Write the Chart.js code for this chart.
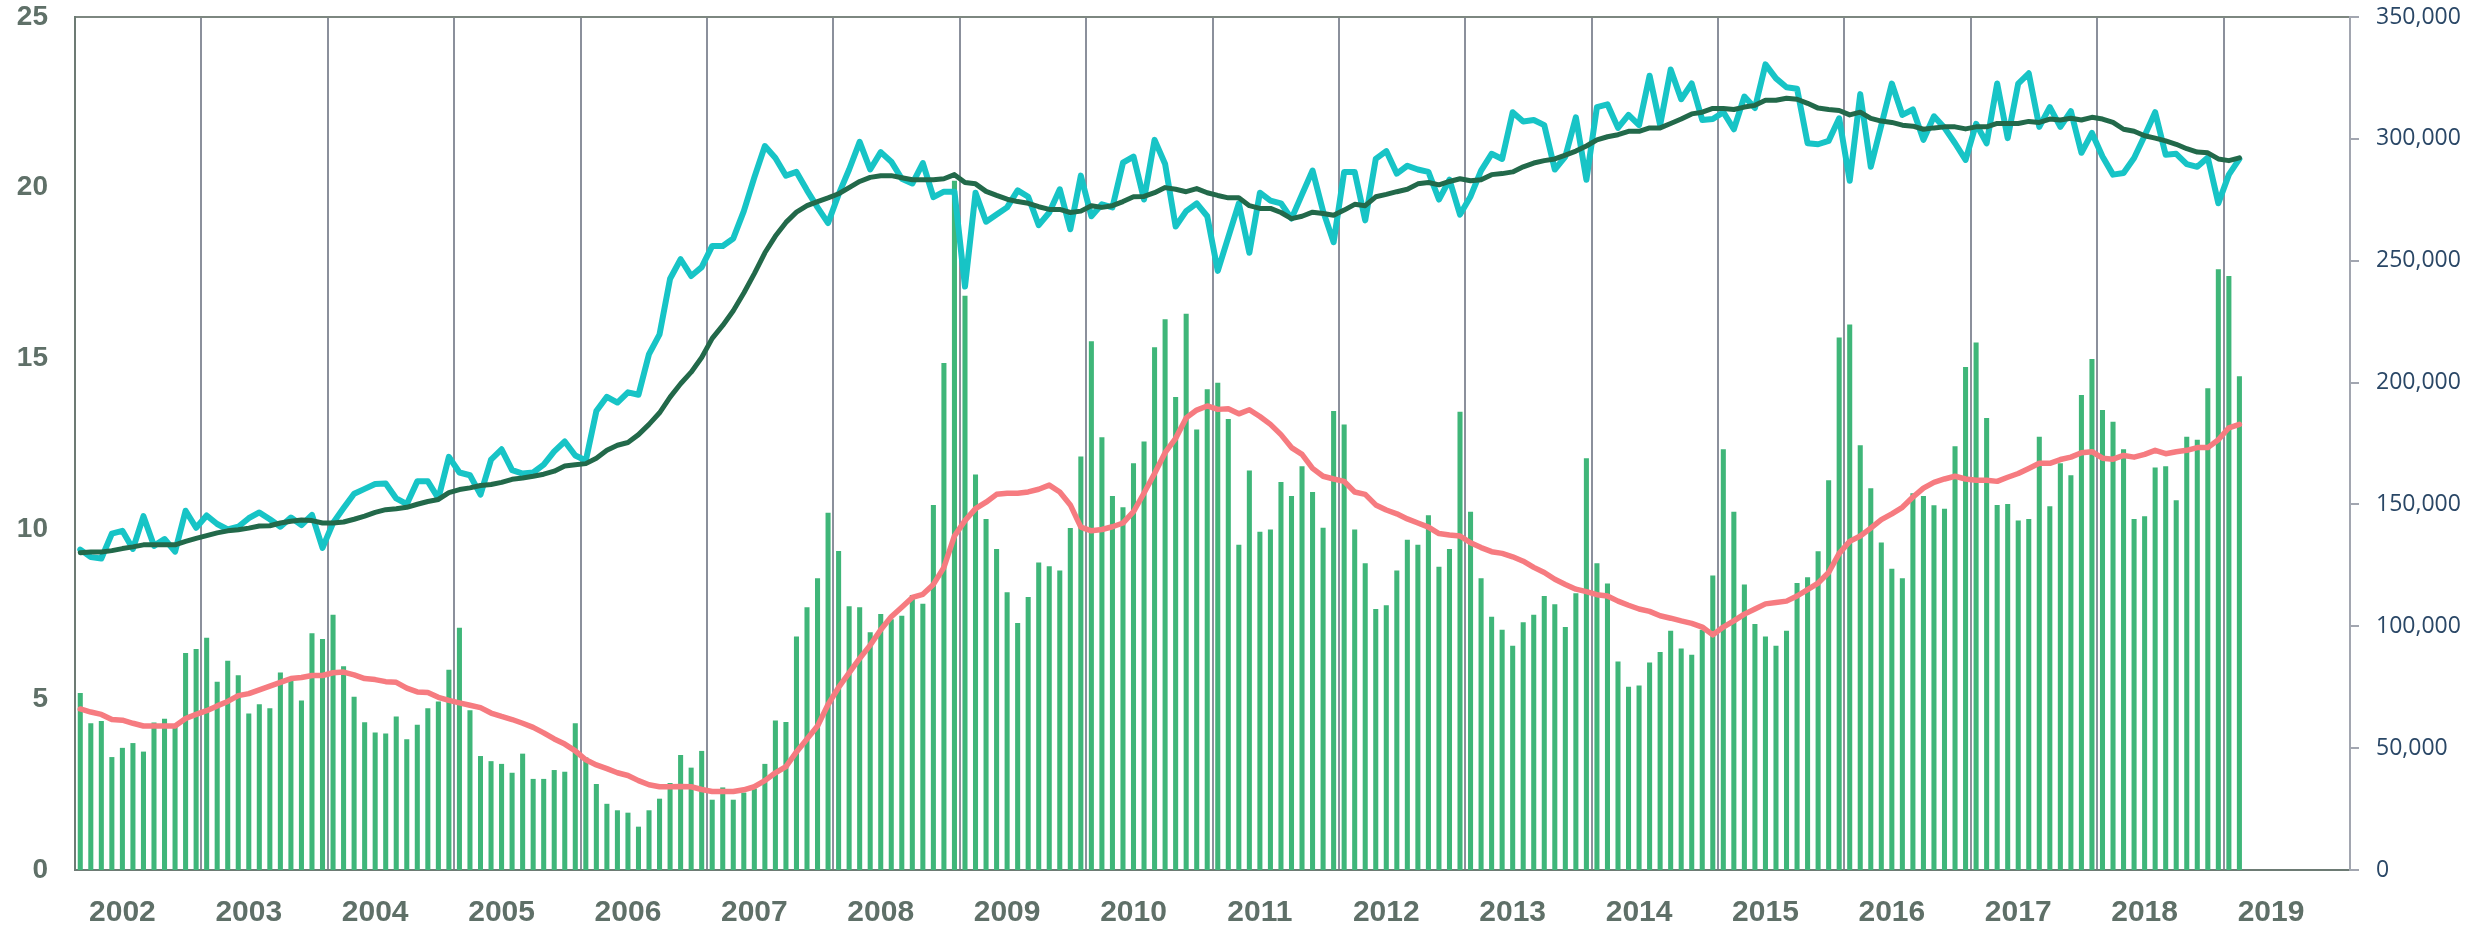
<!DOCTYPE html>
<html>
<head>
<meta charset="utf-8">
<script src="https://cdn.jsdelivr.net/npm/chart.js@4.4.1/dist/chart.umd.min.js"></script>
<style>
    html, body { margin: 0; padding: 0; background: #ffffff; }
    canvas { display: block; }
</style>
</head>
<body>
<canvas id="chart" width="2479" height="925"></canvas>
<script>
// Year labels along the bottom axis (one per 12 months)
const years = ['2002', '2003', '2004', '2005', '2006', '2007', '2008', '2009', '2010',
    '2011', '2012', '2013', '2014', '2015', '2016', '2017', '2018', '2019'];

// Months shown on the axis (18 years), data covers the first 206
const MONTHS_ON_AXIS = 216;

// Monthly bars (left axis)
const barValues = [
    5.19, 4.30, 4.37, 3.31, 3.58, 3.72, 3.47, 4.32, 4.43, 4.20, 6.36, 6.48,
    6.81, 5.52, 6.13, 5.71, 4.59, 4.86, 4.74, 5.79, 5.55, 4.97, 6.94, 6.77,
    7.48, 5.97, 5.08, 4.33, 4.03, 4.00, 4.50, 3.83, 4.26, 4.74, 4.94, 5.87,
    7.10, 4.68, 3.34, 3.19, 3.11, 2.85, 3.41, 2.67, 2.67, 2.93, 2.88, 4.30,
    3.30, 2.52, 1.94, 1.75, 1.68, 1.27, 1.75, 2.09, 2.55, 3.37, 3.00, 3.49,
    2.06, 2.42, 2.06, 2.27, 2.39, 3.11, 4.38, 4.34, 6.84, 7.70, 8.55, 10.47,
    9.35, 7.73, 7.70, 6.97, 7.50, 7.35, 7.45, 8.06, 7.80, 10.70, 14.86, 20.20,
    16.83, 11.59, 10.29, 9.41, 8.14, 7.24, 8.00, 9.01, 8.90, 8.78, 10.02, 12.12,
    15.50, 12.68, 10.96, 10.63, 11.92, 12.56, 15.32, 16.14, 13.86, 16.30, 12.91, 14.09,
    14.28, 13.22, 9.53, 11.71, 9.91, 9.98, 11.37, 10.96, 11.83, 11.08, 10.03, 13.45,
    13.06, 9.98, 8.99, 7.65, 7.76, 8.78, 9.68, 9.53, 10.40, 8.89, 9.41, 13.43,
    10.50, 8.55, 7.42, 7.04, 6.57, 7.26, 7.48, 8.03, 7.79, 7.12, 8.11, 12.07,
    8.99, 8.40, 6.11, 5.37, 5.41, 6.08, 6.39, 7.01, 6.49, 6.31, 7.04, 8.63,
    12.33, 10.50, 8.37, 7.21, 6.84, 6.57, 7.01, 8.41, 8.58, 9.34, 11.42, 15.61,
    15.99, 12.45, 11.19, 9.60, 8.83, 8.55, 11.04, 10.96, 10.69, 10.59, 12.42, 14.74,
    15.46, 13.25, 10.70, 10.73, 10.24, 10.29, 12.70, 10.66, 11.92, 11.57, 13.92, 14.98,
    13.48, 13.14, 12.33, 10.29, 10.37, 11.80, 11.83, 10.84, 12.70, 12.61, 14.12, 17.61,
    17.41, 14.47
];

// Monthly line (cyan)
const monthlyLine = [
    9.39, 9.17, 9.13, 9.86, 9.94, 9.41, 10.37, 9.50, 9.70, 9.33, 10.53, 10.03,
    10.39, 10.14, 9.98, 10.06, 10.31, 10.48, 10.28, 10.06, 10.33, 10.11, 10.41, 9.44,
    10.17, 10.61, 11.03, 11.17, 11.31, 11.33, 10.89, 10.72, 11.39, 11.39, 10.89, 12.11,
    11.65, 11.57, 11.00, 12.03, 12.33, 11.72, 11.62, 11.65, 11.88, 12.27, 12.56, 12.15,
    12.00, 13.45, 13.87, 13.70, 14.00, 13.93, 15.12, 15.70, 17.33, 17.90, 17.41, 17.67,
    18.29, 18.29, 18.51, 19.31, 20.30, 21.22, 20.87, 20.35, 20.46, 19.92, 19.42, 18.96,
    19.80, 20.53, 21.34, 20.53, 21.04, 20.76, 20.26, 20.12, 20.72, 19.72, 19.88, 19.88,
    17.10, 19.85, 19.00, 19.21, 19.42, 19.92, 19.73, 18.90, 19.27, 19.95, 18.78, 20.35,
    19.16, 19.51, 19.42, 20.73, 20.91, 19.65, 21.40, 20.69, 18.86, 19.31, 19.54, 19.16,
    17.56, 18.55, 19.54, 18.09, 19.85, 19.62, 19.54, 19.09, 19.80, 20.50, 19.31, 18.40,
    20.46, 20.46, 19.04, 20.84, 21.07, 20.41, 20.64, 20.53, 20.46, 19.65, 20.23, 19.21,
    19.74, 20.50, 20.99, 20.84, 22.21, 21.94, 21.98, 21.83, 20.53, 20.91, 22.06, 20.23,
    22.36, 22.44, 21.75, 22.13, 21.83, 23.28, 21.83, 23.46, 22.59, 23.05, 21.98, 22.01,
    22.21, 21.71, 22.67, 22.33, 23.61, 23.20, 22.94, 22.90, 21.30, 21.27, 21.37, 22.03,
    20.20, 22.74, 20.61, 21.83, 23.05, 22.13, 22.29, 21.40, 22.09, 21.75, 21.30, 20.81,
    21.87, 21.30, 23.05, 21.45, 23.05, 23.35, 21.78, 22.36, 21.78, 22.24, 21.02, 21.60,
    20.91, 20.38, 20.43, 20.87, 21.52, 22.21, 20.96, 20.99, 20.69, 20.61, 20.88, 19.54,
    20.38, 20.84
];

// Smoothed trend of the monthly line (dark green)
const lineTrend = [
    9.30, 9.32, 9.32, 9.36, 9.42, 9.47, 9.53, 9.53, 9.53, 9.53, 9.63, 9.72,
    9.80, 9.88, 9.94, 9.97, 10.02, 10.08, 10.09, 10.17, 10.22, 10.26, 10.24, 10.17,
    10.17, 10.20, 10.28, 10.37, 10.48, 10.56, 10.59, 10.63, 10.72, 10.80, 10.86, 11.06,
    11.15, 11.20, 11.27, 11.30, 11.36, 11.45, 11.49, 11.54, 11.60, 11.69, 11.84, 11.88,
    11.91, 12.07, 12.30, 12.45, 12.53, 12.76, 13.06, 13.40, 13.86, 14.25, 14.59, 15.02,
    15.58, 15.96, 16.39, 16.91, 17.48, 18.09, 18.58, 18.98, 19.28, 19.47, 19.59, 19.70,
    19.82, 20.00, 20.18, 20.30, 20.35, 20.35, 20.29, 20.23, 20.23, 20.23, 20.26, 20.38,
    20.15, 20.11, 19.89, 19.77, 19.66, 19.59, 19.54, 19.44, 19.36, 19.36, 19.27, 19.31,
    19.47, 19.42, 19.47, 19.59, 19.73, 19.74, 19.85, 20.00, 19.95, 19.88, 19.97, 19.85,
    19.77, 19.70, 19.70, 19.47, 19.39, 19.39, 19.27, 19.09, 19.16, 19.28, 19.24, 19.19,
    19.34, 19.51, 19.47, 19.73, 19.80, 19.88, 19.95, 20.11, 20.15, 20.08, 20.18, 20.26,
    20.20, 20.23, 20.38, 20.41, 20.46, 20.61, 20.72, 20.79, 20.84, 20.95, 21.07, 21.22,
    21.40, 21.49, 21.55, 21.65, 21.65, 21.75, 21.75, 21.88, 22.01, 22.16, 22.21, 22.32,
    22.32, 22.29, 22.36, 22.41, 22.56, 22.56, 22.62, 22.59, 22.47, 22.33, 22.29, 22.26,
    22.13, 22.21, 22.03, 21.95, 21.91, 21.83, 21.80, 21.71, 21.75, 21.78, 21.78, 21.72,
    21.78, 21.78, 21.88, 21.88, 21.88, 21.94, 21.91, 22.01, 21.98, 22.03, 21.98, 22.06,
    22.01, 21.91, 21.71, 21.65, 21.52, 21.45, 21.37, 21.27, 21.14, 21.04, 21.02, 20.84,
    20.79, 20.87
];

// Smoothed trend of the bars (red)
const barTrend = [
    4.72, 4.63, 4.56, 4.41, 4.39, 4.30, 4.22, 4.22, 4.22, 4.22, 4.44, 4.56,
    4.67, 4.81, 4.94, 5.11, 5.17, 5.28, 5.39, 5.50, 5.61, 5.64, 5.70, 5.70,
    5.78, 5.80, 5.72, 5.61, 5.58, 5.52, 5.50, 5.33, 5.22, 5.20, 5.06, 4.97,
    4.90, 4.83, 4.76, 4.60, 4.50, 4.41, 4.30, 4.18, 4.02, 3.84, 3.69, 3.49,
    3.23, 3.08, 2.97, 2.85, 2.77, 2.62, 2.50, 2.44, 2.44, 2.45, 2.44, 2.36,
    2.30, 2.30, 2.30, 2.35, 2.44, 2.62, 2.85, 3.03, 3.46, 3.84, 4.22, 4.85,
    5.35, 5.78, 6.20, 6.59, 7.04, 7.42, 7.70, 7.99, 8.08, 8.37, 8.87, 9.79,
    10.24, 10.59, 10.78, 11.01, 11.04, 11.04, 11.08, 11.16, 11.28, 11.08, 10.70, 10.05,
    9.94, 9.98, 10.06, 10.17, 10.50, 11.05, 11.62, 12.23, 12.65, 13.25, 13.48, 13.60,
    13.50, 13.52, 13.37, 13.49, 13.29, 13.06, 12.76, 12.38, 12.18, 11.77, 11.54, 11.46,
    11.39, 11.08, 11.01, 10.70, 10.55, 10.44, 10.29, 10.17, 10.05, 9.86, 9.82, 9.79,
    9.59, 9.45, 9.33, 9.28, 9.18, 9.05, 8.87, 8.72, 8.52, 8.37, 8.23, 8.16,
    8.07, 8.03, 7.88, 7.76, 7.65, 7.58, 7.45, 7.38, 7.30, 7.23, 7.12, 6.89,
    7.12, 7.30, 7.50, 7.65, 7.80, 7.84, 7.88, 8.03, 8.22, 8.41, 8.72, 9.28,
    9.63, 9.79, 10.02, 10.27, 10.44, 10.63, 10.93, 11.19, 11.36, 11.46, 11.54, 11.46,
    11.42, 11.42, 11.39, 11.51, 11.62, 11.77, 11.92, 11.92, 12.03, 12.10, 12.23, 12.26,
    12.07, 12.04, 12.15, 12.10, 12.18, 12.30, 12.20, 12.26, 12.30, 12.38, 12.38, 12.61,
    12.96, 13.06
];

// Colours
const BAR_GREEN = '#3fb679';
const CYAN = '#17c4c6';
const DARK_GREEN = '#22694a';
const SALMON = '#f67b80';
const GRID_GREY = '#8b909c';
const LEFT_TEXT = '#5f7068';
const RIGHT_TEXT = '#2a4766';

// One category per month
const monthLabels = [];
for (let i = 0; i < MONTHS_ON_AXIS; i++) {
    monthLabels.push(i);
}

// Year separators every 12 months
function yearGridColor(ctx) {
    const i = ctx.index;
    return (i > 0 && i < MONTHS_ON_AXIS && i % 12 === 0) ? GRID_GREY : 'rgba(0,0,0,0)';
}

const ctx = document.getElementById('chart').getContext('2d');
const chart = new Chart(ctx, {
    type: 'bar',
    data: {
        labels: monthLabels,
        datasets: [
            {
                type: 'line',
                data: barTrend,
                borderColor: SALMON,
                borderWidth: 5.5,
                pointRadius: 0,
                tension: 0,
                borderJoinStyle: 'round',
                borderCapStyle: 'round',
                order: 1
            },
            {
                type: 'line',
                data: lineTrend,
                borderColor: DARK_GREEN,
                borderWidth: 5,
                pointRadius: 0,
                tension: 0,
                borderJoinStyle: 'round',
                borderCapStyle: 'round',
                order: 2
            },
            {
                type: 'line',
                data: monthlyLine,
                borderColor: CYAN,
                borderWidth: 6,
                pointRadius: 0,
                tension: 0,
                borderJoinStyle: 'round',
                borderCapStyle: 'round',
                order: 3
            },
            {
                type: 'bar',
                data: barValues,
                backgroundColor: BAR_GREEN,
                barPercentage: 0.48,
                categoryPercentage: 1,
                order: 4
            }
        ]
    },
    options: {
        responsive: false,
        animation: false,
        layout: {
            padding: { top: 17, right: 0, bottom: 0, left: 0 }
        },
        plugins: {
            legend: { display: false },
            tooltip: { enabled: false }
        },
        scales: {
            x: {
                type: 'category',
                position: 'bottom',
                offset: true,
                grid: { display: false, drawTicks: false },
                border: { display: true, color: '#6d7b74', width: 2 },
                ticks: {
                    autoSkip: false,
                    maxRotation: 0,
                    minRotation: 0,
                    padding: 25,
                    color: LEFT_TEXT,
                    font: { family: '"Liberation Sans", Arial, sans-serif', size: 30, weight: 'bold' },
                    callback: (value, index) => (index % 12 === 4) ? years[(index - 4) / 12] : ''
                },
                afterFit: (scale) => { scale.height = 55; }
            },
            xTop: {
                type: 'category',
                position: 'top',
                offset: true,
                grid: {
                    display: true,
                    offset: true,
                    drawTicks: false,
                    color: yearGridColor,
                    lineWidth: 2
                },
                border: { display: true, color: '#7d8780', width: 2 },
                ticks: { display: false, autoSkip: false },
                afterFit: (scale) => { scale.height = 0; }
            },
            y: {
                position: 'left',
                min: 0,
                max: 25,
                // invisible tick length keeps the labels away from the axis
                grid: { display: false, drawTicks: true, tickLength: 27 },
                border: { display: true, color: '#6d7b74', width: 2 },
                ticks: {
                    stepSize: 5,
                    padding: 0,
                    color: LEFT_TEXT,
                    font: { family: '"Liberation Sans", Arial, sans-serif', size: 28, weight: 'bold' }
                },
                afterFit: (scale) => { scale.width = 75; }
            },
            // right axis line and its short tick marks
            yMarks: {
                position: 'right',
                weight: 0,
                min: 0,
                max: 350000,
                grid: {
                    display: true,
                    drawOnChartArea: false,
                    drawTicks: true,
                    tickLength: 9,
                    color: '#a2a6b0',
                    lineWidth: 2
                },
                border: { display: true, color: '#a2a6b0', width: 2 },
                ticks: { display: false, stepSize: 50000 },
                afterFit: (scale) => { scale.width = 0; }
            },
            // right axis labels
            y2: {
                position: 'right',
                weight: 1,
                min: 0,
                max: 350000,
                grid: { display: false, drawTicks: true, tickLength: 26 },
                border: { display: false },
                ticks: {
                    stepSize: 50000,
                    padding: 0,
                    color: RIGHT_TEXT,
                    font: { family: '"Open Sans", sans-serif', size: 23 },
                    callback: (value) => value.toLocaleString('en-US')
                },
                afterFit: (scale) => { scale.width = 129; }
            }
        }
    }
});
</script>
</body>
</html>
